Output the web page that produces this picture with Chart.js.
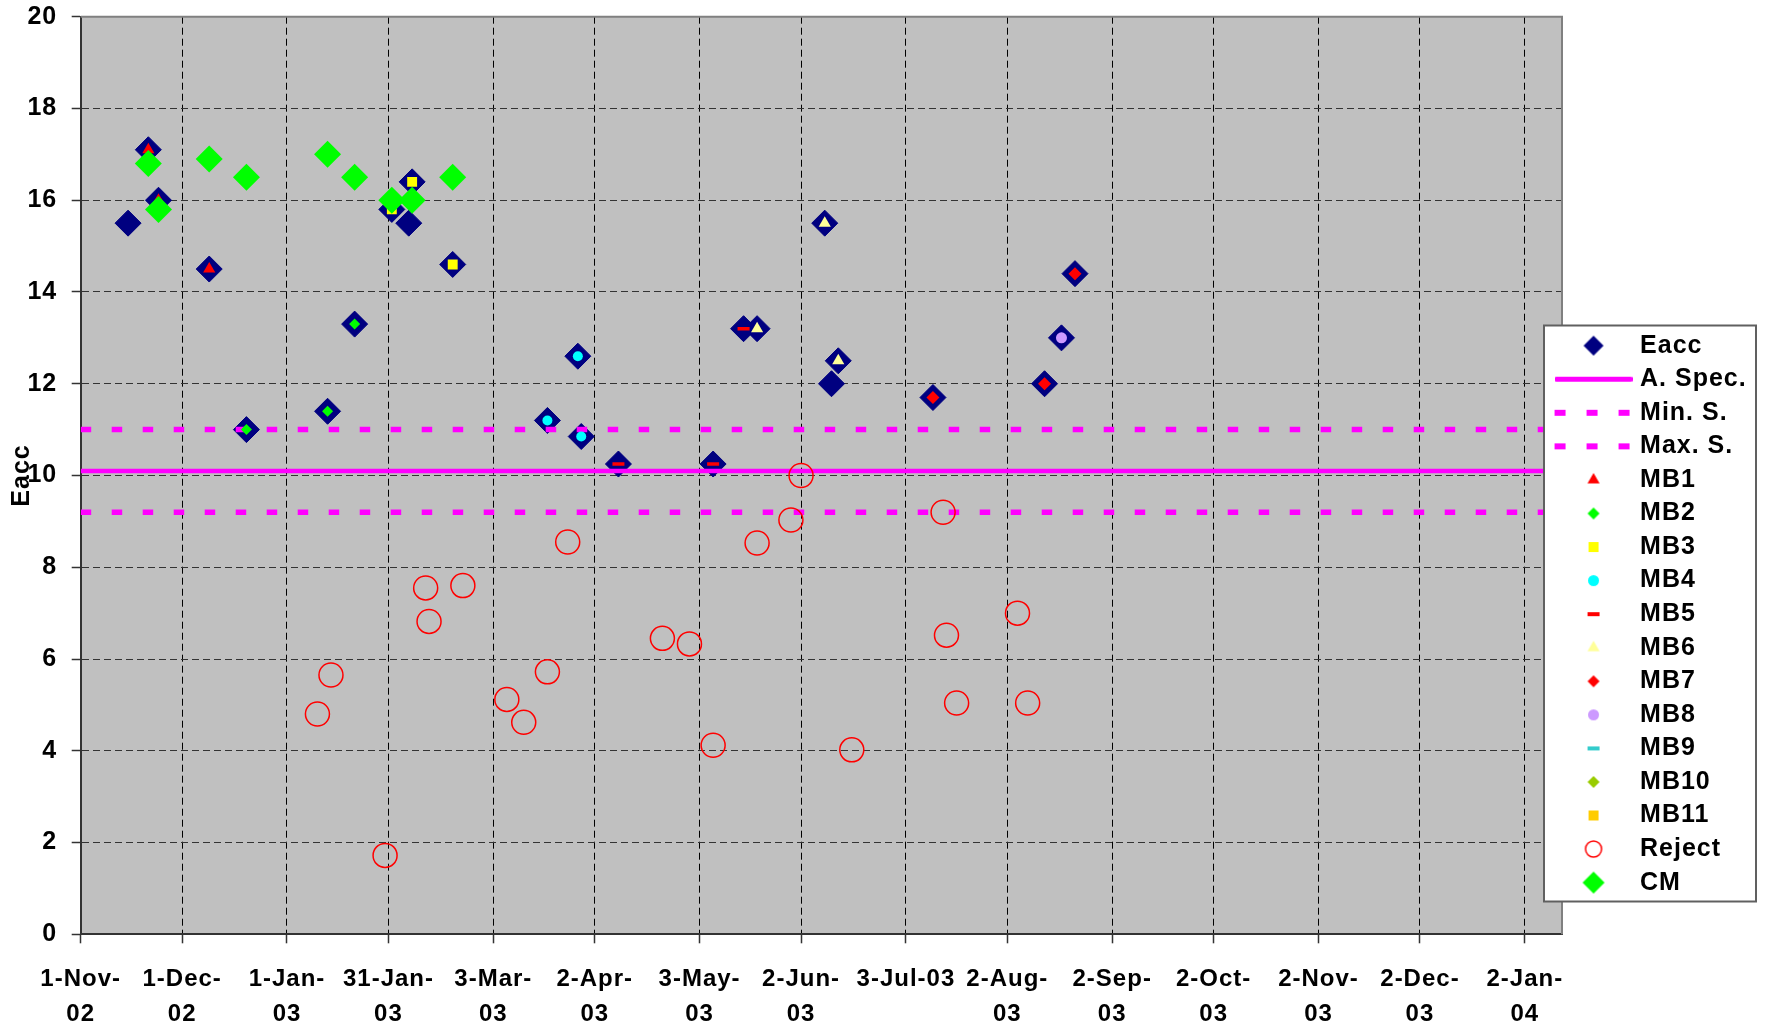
<!DOCTYPE html>
<html>
<head>
<meta charset="utf-8">
<title>Eacc</title>
<script src="https://cdn.jsdelivr.net/npm/chart.js@4.4.0/dist/chart.umd.min.js"></script>
<style>
    html, body { margin: 0; padding: 0; background: #ffffff; }
    #wrap { position: relative; width: 1765px; height: 1024px; }
</style>
</head>
<body>
<div id="wrap"><canvas id="myChart"></canvas></div>
<script>
// x axis runs in days counted from startDate
var startDate = '2002-11-01';
var endDate = '2004-01-13';

var xTickDates = ['2002-11-01', '2002-12-01', '2003-01-01', '2003-01-31', '2003-03-03', '2003-04-02', '2003-05-03',
    '2003-06-02', '2003-07-03', '2003-08-02', '2003-09-02', '2003-10-02', '2003-11-02', '2003-12-02', '2004-01-02'];
var xTickLabels = [['1-Nov-', '02'], ['1-Dec-', '02'], ['1-Jan-', '03'], ['31-Jan-', '03'], ['3-Mar-', '03'],
    ['2-Apr-', '03'], ['3-May-', '03'], ['2-Jun-', '03'], '3-Jul-03', ['2-Aug-', '03'], ['2-Sep-', '03'],
    ['2-Oct-', '03'], ['2-Nov-', '03'], ['2-Dec-', '03'], ['2-Jan-', '04']];

var eaccDates = ['2002-11-15', '2002-11-21', '2002-11-24', '2002-12-09', '2002-12-20', '2003-01-13', '2003-01-21',
    '2003-02-01', '2003-02-06', '2003-02-07', '2003-02-19', '2003-03-19', '2003-03-28', '2003-03-29', '2003-04-09',
    '2003-05-07', '2003-05-16', '2003-05-20', '2003-06-09', '2003-06-11', '2003-06-13', '2003-07-11', '2003-08-13',
    '2003-08-18', '2003-08-22'];
var eaccValues = [15.5, 17.1, 16.0, 14.5, 11.0, 11.4, 13.3, 15.8, 15.5, 16.4, 14.6, 11.2, 12.6, 10.85, 10.25,
    10.25, 13.2, 13.2, 15.5, 12.0, 12.5, 11.7, 12.0, 13.0, 14.4];

var aSpec = 10.1;
var minSpec = 9.2;
var maxSpec = 11.0;

var mb1Dates = ['2002-11-21', '2002-11-24', '2002-12-09'];
var mb1Values = [17.1, 16.0, 14.5];
var mb2Dates = ['2002-12-20', '2003-01-13', '2003-01-21'];
var mb2Values = [11.0, 11.4, 13.3];
var mb3Dates = ['2003-02-01', '2003-02-07', '2003-02-19'];
var mb3Values = [15.8, 16.4, 14.6];
var mb4Dates = ['2003-03-19', '2003-03-28', '2003-03-29'];
var mb4Values = [11.2, 12.6, 10.85];
var mb5Dates = ['2003-04-09', '2003-05-07', '2003-05-16'];
var mb5Values = [10.25, 10.25, 13.2];
var mb6Dates = ['2003-05-20', '2003-06-09', '2003-06-13'];
var mb6Values = [13.2, 15.5, 12.5];
var mb7Dates = ['2003-07-11', '2003-08-13', '2003-08-22'];
var mb7Values = [11.7, 12.0, 14.4];
var mb8Dates = ['2003-08-18'];
var mb8Values = [13.0];
var mb9Dates = [], mb9Values = [];
var mb10Dates = [], mb10Values = [];
var mb11Dates = [], mb11Values = [];

var rejectDates = ['2003-01-10', '2003-01-14', '2003-01-30', '2003-02-11', '2003-02-12', '2003-02-22', '2003-03-07',
    '2003-03-12', '2003-03-19', '2003-03-25', '2003-04-22', '2003-04-30', '2003-05-07', '2003-05-20', '2003-05-30',
    '2003-06-02', '2003-06-17', '2003-07-14', '2003-07-15', '2003-07-18', '2003-08-05', '2003-08-08'];
var rejectValues = [4.8, 5.65, 1.72, 7.55, 6.82, 7.6, 5.12, 4.62, 5.72, 8.55, 6.45, 6.33, 4.12, 8.53, 9.03,
    10.0, 4.02, 9.2, 6.52, 5.04, 7.0, 5.04];

var cmDates = ['2002-11-21', '2002-11-24', '2002-12-09', '2002-12-20', '2003-01-13', '2003-01-21', '2003-02-01',
    '2003-02-07', '2003-02-19'];
var cmValues = [16.8, 15.8, 16.9, 16.5, 17.0, 16.5, 16.0, 16.0, 16.5];

function dayNum(s) {
    var a = s.split('-'), b = startDate.split('-');
    return (Date.UTC(+a[0], +a[1] - 1, +a[2]) - Date.UTC(+b[0], +b[1] - 1, +b[2])) / 86400000;
}
function toPoints(dates, values) {
    return dates.map(function(d, i) { return { x: dayNum(d), y: values[i] }; });
}
function flatLine(v) {
    return [{ x: dayNum(startDate), y: v }, { x: dayNum(endDate), y: v }];
}

// small canvases used as legend symbols
function symbol(w, h, paint) {
    var c = document.createElement('canvas');
    c.width = w;
    c.height = h;
    paint(c.getContext('2d'), w / 2, h / 2);
    return c;
}
function diamond(color, r) {
    return symbol(2 * r + 2, 2 * r + 2, function(g, x, y) {
        g.fillStyle = color;
        g.beginPath();
        g.moveTo(x, y - r); g.lineTo(x + r, y); g.lineTo(x, y + r); g.lineTo(x - r, y);
        g.closePath();
        g.fill();
    });
}
function triangle(color, r) {
    return symbol(2 * r + 2, 2 * r + 2, function(g, x, y) {
        g.fillStyle = color;
        g.beginPath();
        g.moveTo(x, y - r); g.lineTo(x + r * 0.866, y + r / 2); g.lineTo(x - r * 0.866, y + r / 2);
        g.closePath();
        g.fill();
    });
}
function square(color, s) {
    return symbol(s + 2, s + 2, function(g, x, y) {
        g.fillStyle = color;
        g.fillRect(x - s / 2, y - s / 2, s, s);
    });
}
function dot(color, r) {
    return symbol(2 * r + 2, 2 * r + 2, function(g, x, y) {
        g.fillStyle = color;
        g.beginPath();
        g.arc(x, y, r, 0, Math.PI * 2);
        g.fill();
    });
}
function ring(color, r, lw) {
    return symbol(2 * r + 4, 2 * r + 4, function(g, x, y) {
        g.strokeStyle = color;
        g.lineWidth = lw;
        g.beginPath();
        g.arc(x, y, r, 0, Math.PI * 2);
        g.stroke();
    });
}
function bar(color, w, t) {
    return symbol(w + 2, t + 2, function(g, x, y) {
        g.fillStyle = color;
        g.fillRect(x - w / 2, y - t / 2, w, t);
    });
}
function rule(color, w, t, dash) {
    return symbol(w + 4, t + 4, function(g, x, y) {
        g.strokeStyle = color;
        g.lineWidth = t;
        g.lineCap = dash ? 'butt' : 'round';
        if (dash) g.setLineDash(dash);
        g.beginPath();
        g.moveTo(x - w / 2, y);
        g.lineTo(x + w / 2, y);
        g.stroke();
    });
}

var legendSymbols = [
    diamond('#000080', 10),
    rule('#FF00FF', 74, 5),
    rule('#FF00FF', 78, 6, [11, 21]),
    rule('#FF00FF', 78, 6, [11, 21]),
    triangle('#FF0000', 7),
    diamond('#00FF00', 6),
    square('#FFFF00', 10),
    dot('#00FFFF', 5.5),
    bar('#FF0000', 12, 4),
    triangle('#FFFF99', 7),
    diamond('#FF0000', 6),
    dot('#CC99FF', 5.5),
    bar('#33CCCC', 12, 4),
    diamond('#99CC00', 6),
    square('#FFCC00', 10),
    ring('#FF0000', 8, 1.5),
    diamond('#00FF00', 11)
];

function marker(label, dates, values, style, radius, fill, border, borderWidth) {
    return {
        label: label,
        data: toPoints(dates, values),
        showLine: false,
        pointStyle: style,
        pointRadius: radius,
        pointBackgroundColor: fill,
        pointBorderColor: border,
        pointBorderWidth: borderWidth
    };
}
function specLine(label, value, width, dash) {
    return {
        label: label,
        data: flatLine(value),
        showLine: true,
        borderColor: '#FF00FF',
        borderWidth: width,
        borderDash: dash,
        pointRadius: 0
    };
}

var datasets = [
    marker('Eacc', eaccDates, eaccValues, 'rectRot', 13, '#000080', '#000080', 1),
    specLine('A. Spec.', aSpec, 4.5, []),
    specLine('Min. S.', minSpec, 5.5, [10.5, 20.5]),
    specLine('Max. S.', maxSpec, 5.5, [10.5, 20.5]),
    marker('MB1', mb1Dates, mb1Values, 'triangle', 7, '#FF0000', '#FF0000', 0),
    marker('MB2', mb2Dates, mb2Values, 'rectRot', 5.5, '#00FF00', '#00FF00', 0),
    marker('MB3', mb3Dates, mb3Values, 'rect', 7, '#FFFF00', '#FFFF00', 0),
    marker('MB4', mb4Dates, mb4Values, 'circle', 5, '#00FFFF', '#00FFFF', 0),
    marker('MB5', mb5Dates, mb5Values, 'line', 6, '#FF0000', '#FF0000', 3.5),
    marker('MB6', mb6Dates, mb6Values, 'triangle', 7, '#FFFF99', '#FFFF99', 0),
    marker('MB7', mb7Dates, mb7Values, 'rectRot', 6.5, '#FF0000', '#FF0000', 0),
    marker('MB8', mb8Dates, mb8Values, 'circle', 5.5, '#CC99FF', '#CC99FF', 0),
    marker('MB9', mb9Dates, mb9Values, 'line', 6, '#33CCCC', '#33CCCC', 3.5),
    marker('MB10', mb10Dates, mb10Values, 'rectRot', 6, '#99CC00', '#99CC00', 0),
    marker('MB11', mb11Dates, mb11Values, 'rect', 7, '#FFCC00', '#FFCC00', 0),
    marker('Reject', rejectDates, rejectValues, 'circle', 12, 'rgba(0,0,0,0)', '#FF0000', 1.5),
    marker('CM', cmDates, cmValues, 'rectRot', 13.5, '#00FF00', '#00FF00', 0)
];
// later series are painted on top, as in the original
datasets.forEach(function(ds, i) { ds.order = datasets.length - i; });

var plotFrame = {
    id: 'plotFrame',
    beforeDraw: function(chart) {
        var a = chart.chartArea, c = chart.ctx;
        c.letterSpacing = '1px';
        c.save();
        c.fillStyle = '#C0C0C0';
        c.fillRect(a.left, a.top, a.right - a.left, a.bottom - a.top);
        c.restore();
    },
    afterLayout: function(chart) {
        var lg = chart.legend;
        lg.left = 1551;
        lg.top = 324.6;
        lg.right = 1760;
        lg.bottom = 930;
        lg.width = lg.right - lg.left;
        lg.height = lg.bottom - lg.top;
    },
    beforeDatasetsDraw: function(chart) {
        var a = chart.chartArea, c = chart.ctx;
        c.save();
        c.strokeStyle = '#808080';
        c.lineWidth = 2;
        c.beginPath();
        c.moveTo(a.left, a.top);
        c.lineTo(a.right, a.top);
        c.lineTo(a.right, a.bottom);
        c.stroke();
        c.restore();
    },
    afterDatasetsDraw: function(chart) {
        var c = chart.ctx;
        c.save();
        c.fillStyle = '#FFFFFF';
        c.strokeStyle = '#606060';
        c.lineWidth = 2;
        c.fillRect(1544, 325.5, 212, 576);
        c.strokeRect(1544, 325.5, 212, 576);
        c.restore();
        chart.legend.draw();
    }
};

var boldFont = function(size, lh) { return { size: size, weight: 'bold', lineHeight: lh || 1.2 }; };

Chart.defaults.font.family = "Arial, 'Liberation Sans', Helvetica, sans-serif";
Chart.defaults.color = '#000000';

var ctx = document.getElementById('myChart').getContext('2d');
var chart = new Chart(ctx, {
    type: 'scatter',
    data: { datasets: datasets },
    options: {
        responsive: true,
        maintainAspectRatio: false,
        animation: false,
        events: [],
        layout: { padding: { left: 0, top: 16.7, right: 203, bottom: 0 } },
        scales: {
            x: {
                type: 'linear',
                min: dayNum(startDate),
                max: dayNum(endDate),
                afterFit: function(scale) {
                    scale.height = 89.7;
                    scale.paddingLeft = 0;
                    scale.paddingRight = 0;
                },
                afterBuildTicks: function(scale) {
                    scale.ticks = xTickDates.map(function(d) { return { value: dayNum(d) }; });
                },
                ticks: {
                    autoSkip: false,
                    maxRotation: 0,
                    minRotation: 0,
                    padding: 19,
                    color: '#000000',
                    font: boldFont(24, 1.46),
                    callback: function(value, index) { return xTickLabels[index]; }
                },
                grid: {
                    color: '#000000',
                    lineWidth: 1,
                    tickLength: 9,
                    tickColor: '#333333',
                    tickWidth: 1.5,
                    tickBorderDash: []
                },
                border: { color: '#333333', width: 2, dash: [7, 4] }
            },
            y: {
                min: 0,
                max: 20,
                afterFit: function(scale) {
                    scale.width = 80.7;
                    scale.paddingTop = 0;
                    scale.paddingBottom = 0;
                },
                ticks: {
                    stepSize: 2,
                    padding: 14.5,
                    color: '#000000',
                    font: boldFont(25)
                },
                grid: {
                    color: '#333333',
                    lineWidth: 1,
                    tickLength: 9,
                    tickColor: '#333333',
                    tickWidth: 1.5,
                    tickBorderDash: []
                },
                border: { color: '#333333', width: 2, dash: [7, 4] },
                title: {
                    display: true,
                    text: 'Eacc',
                    color: '#000000',
                    font: boldFont(25),
                    padding: { top: 7, bottom: 0 }
                }
            }
        },
        plugins: {
            tooltip: { enabled: false },
            legend: {
                display: true,
                position: 'chartArea',
                align: 'start',
                labels: {
                    usePointStyle: true,
                    pointStyleWidth: 68,
                    padding: 8.56,
                    color: '#000000',
                    font: boldFont(25),
                    generateLabels: function(chart) {
                        return chart.data.datasets.map(function(ds, i) {
                            return {
                                text: ds.label,
                                pointStyle: legendSymbols[i],
                                fillStyle: 'rgba(0,0,0,0)',
                                strokeStyle: 'rgba(0,0,0,0)',
                                lineWidth: 0,
                                hidden: false,
                                datasetIndex: i,
                                fontColor: '#000000',
                                textAlign: 'left'
                            };
                        });
                    }
                }
            }
        }
    },
    plugins: [plotFrame]
});
</script>
</body>
</html>
